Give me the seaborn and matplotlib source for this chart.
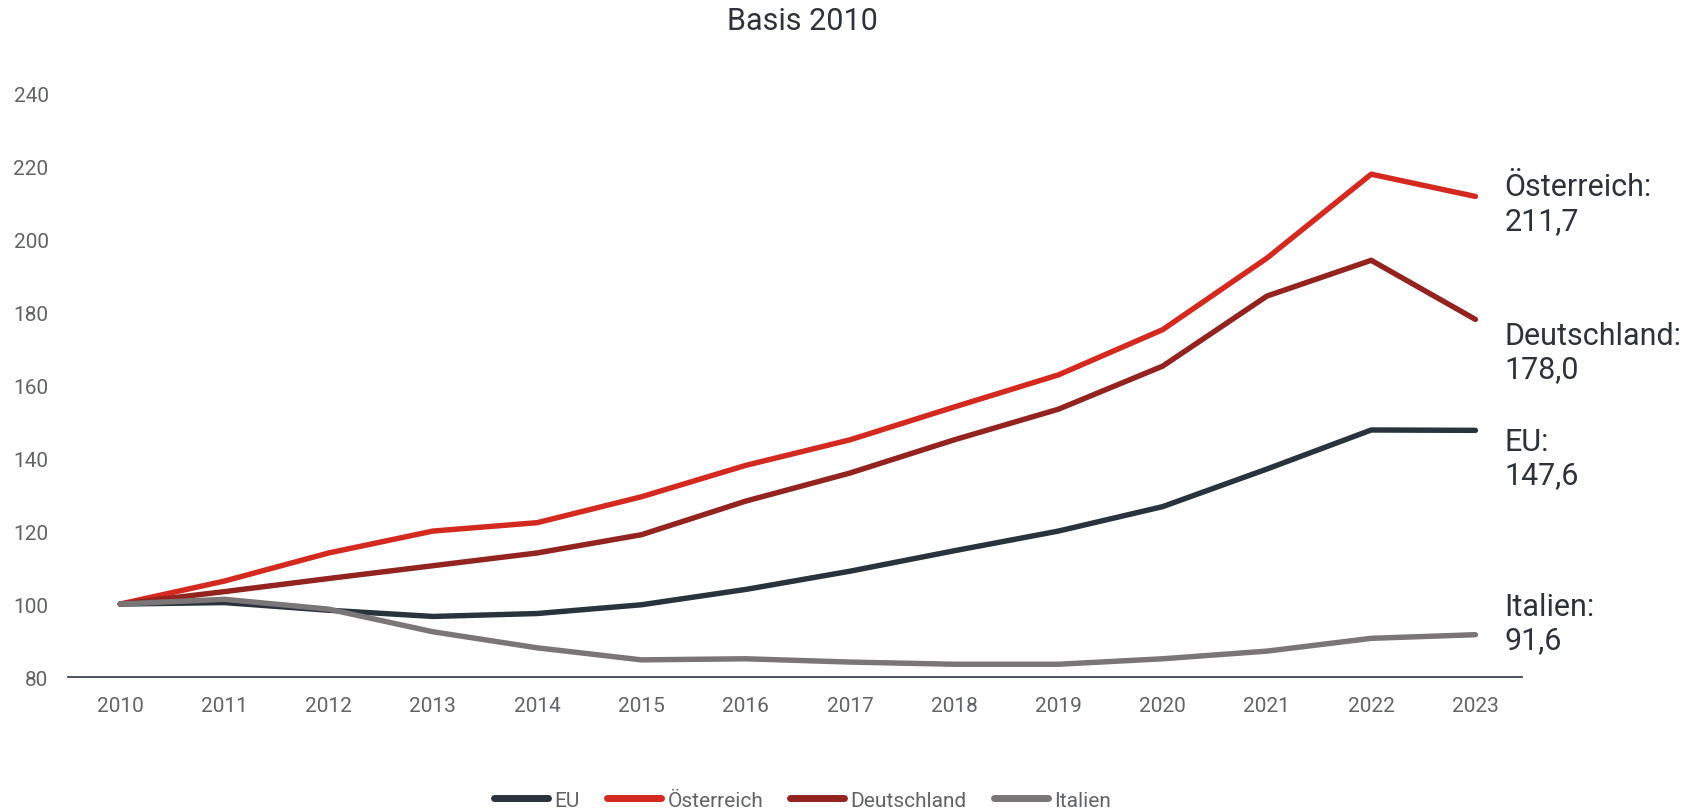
import numpy as np
import pandas as pd
import matplotlib.pyplot as plt
import seaborn as sns

# Daten (Index, Basis 2010 = 100)
jahre = list(range(2010, 2024))
eu = [100, 100.4, 98.3, 96.6, 97.4, 99.8, 104.0, 109.0, 114.6, 120.0, 126.7, 137.0, 147.7, 147.6]
oesterreich = [100, 106.3, 114.0, 120.0, 122.3, 129.4, 138.0, 145.0, 154.0, 162.8, 175.2, 194.8, 217.8, 211.7]
deutschland = [100, 103.4, 107.0, 110.5, 114.0, 119.0, 128.2, 135.9, 145.0, 153.4, 165.2, 184.4, 194.2, 178.0]
italien = [100, 101.3, 98.6, 92.4, 88.0, 84.7, 85.0, 84.1, 83.5, 83.5, 85.0, 87.1, 90.6, 91.6]

laender = ['EU', 'Österreich', 'Deutschland', 'Italien']
farben = ['#29333d', '#d3291f', '#93231f', '#7a7576']
endwerte = ['147,6', '211,7', '178,0', '91,6']
label_y = [140.0, 209.8, 169.0, 94.8]   # Position der Beschriftung rechts

df = pd.DataFrame({
    'Jahr': jahre * 4,
    'Wert': eu + oesterreich + deutschland + italien,
    'Land': sum([[l] * len(jahre) for l in laender], []),
})

sns.set_theme(style='white')
plt.rcParams['font.family'] = ['Roboto', 'DejaVu Sans']

fig = plt.figure(figsize=(16.93, 8.12), dpi=100)
ax = fig.add_axes([0.0402, 0.165, 0.859, 0.719])

sns.lineplot(data=df, x='Jahr', y='Wert', hue='Land', hue_order=laender,
             palette=farben, linewidth=3.9, ax=ax, legend=True)
for line in ax.lines:
    line.set_solid_capstyle('round')

ax.set_xlim(2009.5, 2023.45)
ax.set_ylim(80, 240)
ax.set_xticks(jahre)
ax.set_yticks(range(80, 241, 20))
ax.set_xlabel('')
ax.set_ylabel('')
ax.tick_params(axis='both', length=0, labelsize=15, labelcolor='#626365')
ax.tick_params(axis='y', pad=14)
ax.tick_params(axis='x', pad=14)

for s in ['top', 'right', 'left']:
    ax.spines[s].set_visible(False)
ax.spines['bottom'].set_color('#3b4550')
ax.spines['bottom'].set_linewidth(1.3)

# Endbeschriftungen
for land, wert, y in zip(laender, endwerte, label_y):
    ax.annotate(f'{land}:\n{wert}', xy=(2023, y), xytext=(21, 0),
                textcoords='offset points', va='center', ha='left',
                fontsize=22, color='#2d3339', linespacing=1.2,
                annotation_clip=False)

fig.text(0.474, 0.973, 'Basis 2010', ha='center', va='center',
         fontsize=22, color='#2d3339')

handles, labels = ax.get_legend_handles_labels()
for h in handles:
    h.set_linewidth(5)
    h.set_solid_capstyle('round')
ax.legend(handles, labels, loc='center', bbox_to_anchor=(0.474, 0.0135),
          bbox_transform=fig.transFigure, ncol=4, frameon=False,
          handlelength=2.6, handletextpad=0.3,
          columnspacing=1.3, labelcolor='#626365',
          prop={'size': 15})

fig.savefig('out.png', dpi=100)
